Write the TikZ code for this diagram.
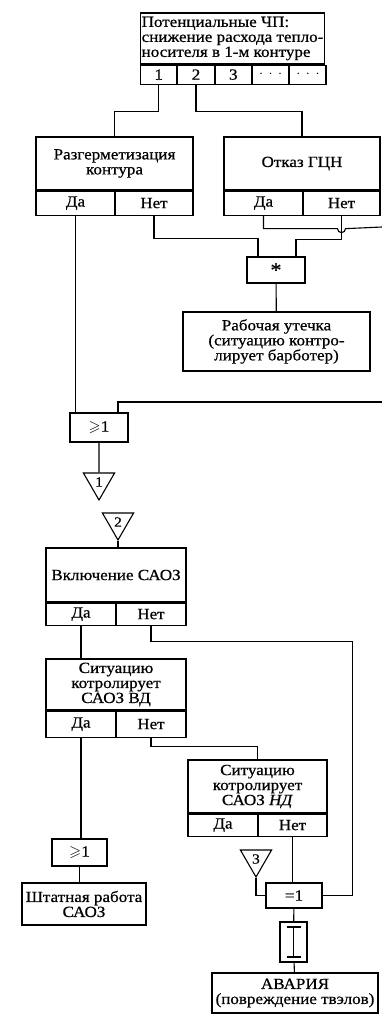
\documentclass[tikz,border=0pt]{standalone}
\usepackage{amsmath,amssymb}
\usepackage{fontspec}
\setmainfont[FakeStretch=1.1,FakeBold=0.6]{Liberation Serif}
\usepackage{tikz}
\usetikzlibrary{positioning,shapes.geometric,calc}

\begin{document}
\begin{tikzpicture}[x=1pt,y=-1pt,line width=1.1pt,
  bx/.style={draw,align=center,inner sep=1pt,font=\fontsize{15.5}{15}\selectfont},
  cell/.style={draw,inner sep=0pt,font=\fontsize{15.5}{15}\selectfont},
  tri/.style={draw,regular polygon,regular polygon sides=3,shape border rotate=180,minimum size=36pt,inner sep=0pt,font=\fontsize{14}{14}\selectfont}]
\useasboundingbox (0,0) rectangle (382,1016);
\node[bx,minimum width=181pt,minimum height=51pt,align=left] (pot) at (232.5,38.5) {Потенциальные ЧП:\\снижение расхода тепло-\\носителя в 1-м контуре};
\node[cell,minimum width=36.2pt,minimum height=19pt,anchor=north west] (p1) at (pot.south west) {1};
\node[cell,minimum width=36.2pt,minimum height=19pt,anchor=north west] (p2) at (p1.north east) {2};
\node[cell,minimum width=36.2pt,minimum height=19pt,anchor=north west] (p3) at (p2.north east) {3};
\node[cell,minimum width=36.2pt,minimum height=19pt,anchor=north west] (p4) at (p3.north east) {$\cdot\,\cdot\,\cdot$};
\node[cell,minimum width=36.2pt,minimum height=19pt,anchor=north west] (p5) at (p4.north east) {$\cdot\,\cdot\,\cdot$};
\node[bx,minimum width=157pt,minimum height=53pt] (rz) at (114.5,163.5) {Разгерметизация\\контура};
\node[cell,minimum width=79pt,minimum height=24pt,anchor=north west] (rzd) at (rz.south west) {Да};
\node[cell,minimum width=78pt,minimum height=24pt,anchor=north east] (rzn) at (rz.south east) {Нет};
\node[bx,minimum width=156pt,minimum height=53pt] (gcn) at (302,163.5) {Отказ ГЦН};
\node[cell,minimum width=79pt,minimum height=24pt,anchor=north west] (gcnd) at (gcn.south west) {Да};
\node[cell,minimum width=77pt,minimum height=24pt,anchor=north east] (gcnn) at (gcn.south east) {Нет};
\node[bx,minimum width=58pt,minimum height=26pt,font=\fontsize{20}{20}\selectfont] (star) at (276,270) {*};
\node[bx,minimum width=187pt,minimum height=59pt] (leak) at (276.5,341.5) {Рабочая утечка\\(ситуацию контро-\\лирует барботер)};
\node[bx,minimum width=58pt,minimum height=29pt] (or1) at (99,427.5) {$\geqslant$1};
\node[tri] (t1) at (99,482) {1};
\node[tri] (t2) at (118,522) {2};
\node[bx,minimum width=140pt,minimum height=54pt] (incl) at (116,575) {Включение САОЗ};
\node[cell,minimum width=70pt,minimum height=22pt,anchor=north west] (incld) at (incl.south west) {Да};
\node[cell,minimum width=70pt,minimum height=22pt,anchor=north east] (incln) at (incl.south east) {Нет};
\node[bx,minimum width=140pt,minimum height=51pt] (vd) at (116,684.5) {Ситуацию\\котролирует\\САОЗ ВД};
\node[cell,minimum width=70pt,minimum height=26pt,anchor=north west] (vdd) at (vd.south west) {Да};
\node[cell,minimum width=70pt,minimum height=26pt,anchor=north east] (vdn) at (vd.south east) {Нет};
\node[bx,minimum width=139pt,minimum height=53pt] (nd) at (257.5,786.5) {Ситуацию\\котролирует\\САОЗ \textit{НД}};
\node[cell,minimum width=70pt,minimum height=22pt,anchor=north west] (ndd) at (nd.south west) {Да};
\node[cell,minimum width=69pt,minimum height=22pt,anchor=north east] (ndn) at (nd.south east) {Нет};
\node[bx,minimum width=55pt,minimum height=27pt] (or2) at (79.5,852.5) {$\geqslant$1};
\node[bx,minimum width=124pt,minimum height=42pt] (sht) at (84,904) {Штатная работа\\САОЗ};
\node[tri] (t3) at (256,859) {3};
\node[bx,minimum width=56pt,minimum height=25pt] (eq1) at (294,895.5) {=1};
\node[draw,inner sep=0pt,minimum width=27pt,minimum height=40pt] (ib) at (293.5,942) {};
\node[bx,minimum width=166pt,minimum height=40pt] (avar) at (295,993) {АВАРИЯ\\(повреждение твэлов)};
\coordinate (e1) at (382,227);
\coordinate (e2) at (382,402);
\draw ([yshift=15pt]ib.center) -- ([yshift=-15pt]ib.center);
\draw ([xshift=-7pt,yshift=15pt]ib.center) -- ([xshift=7pt,yshift=15pt]ib.center);
\draw ([xshift=-7pt,yshift=-15pt]ib.center) -- ([xshift=7pt,yshift=-15pt]ib.center);
\draw (p1.south) -- ++(0,27) -| (rz.north);
\draw (p2.south) -- ++(0,27) -| (gcn.north);
\draw (rzn.south) -- ++(0,23) -| ([xshift=-18pt]star.north);
\draw (gcnn.south) -- ++(0,24) -| ([xshift=20pt]star.north);
\draw (gcnd.south) -- ++(0,13) -- ($(gcnn.south)+(-4,13)$) arc(180:0:4) -- (e1);
\draw (star) -- (leak);
\draw (rzd.south) -- (rzd.south |- or1.north);
\draw (e2) -| ([xshift=19pt]or1.north);
\draw (or1) -- (t1);
\draw (t2.south) -- (t2.south |- incl.north);
\draw (incld.south) -- (incld.south |- vd.north);
\draw (incln.south) -- ++(0,16) -| ([xshift=30pt]eq1.east) -- (eq1.east);
\draw (vdn.south) -- ++(0,9) -| (nd.north);
\draw (vdd.south) -- (vdd.south |- or2.north);
\draw (or2) -- (or2 |- sht.north);
\draw (ndn.south) -- (ndn.south |- eq1.north);
\draw (t3.south) |- (eq1.west);
\draw (eq1) -- (ib);
\draw (ib) -- (avar);
\end{tikzpicture}
\end{document}
